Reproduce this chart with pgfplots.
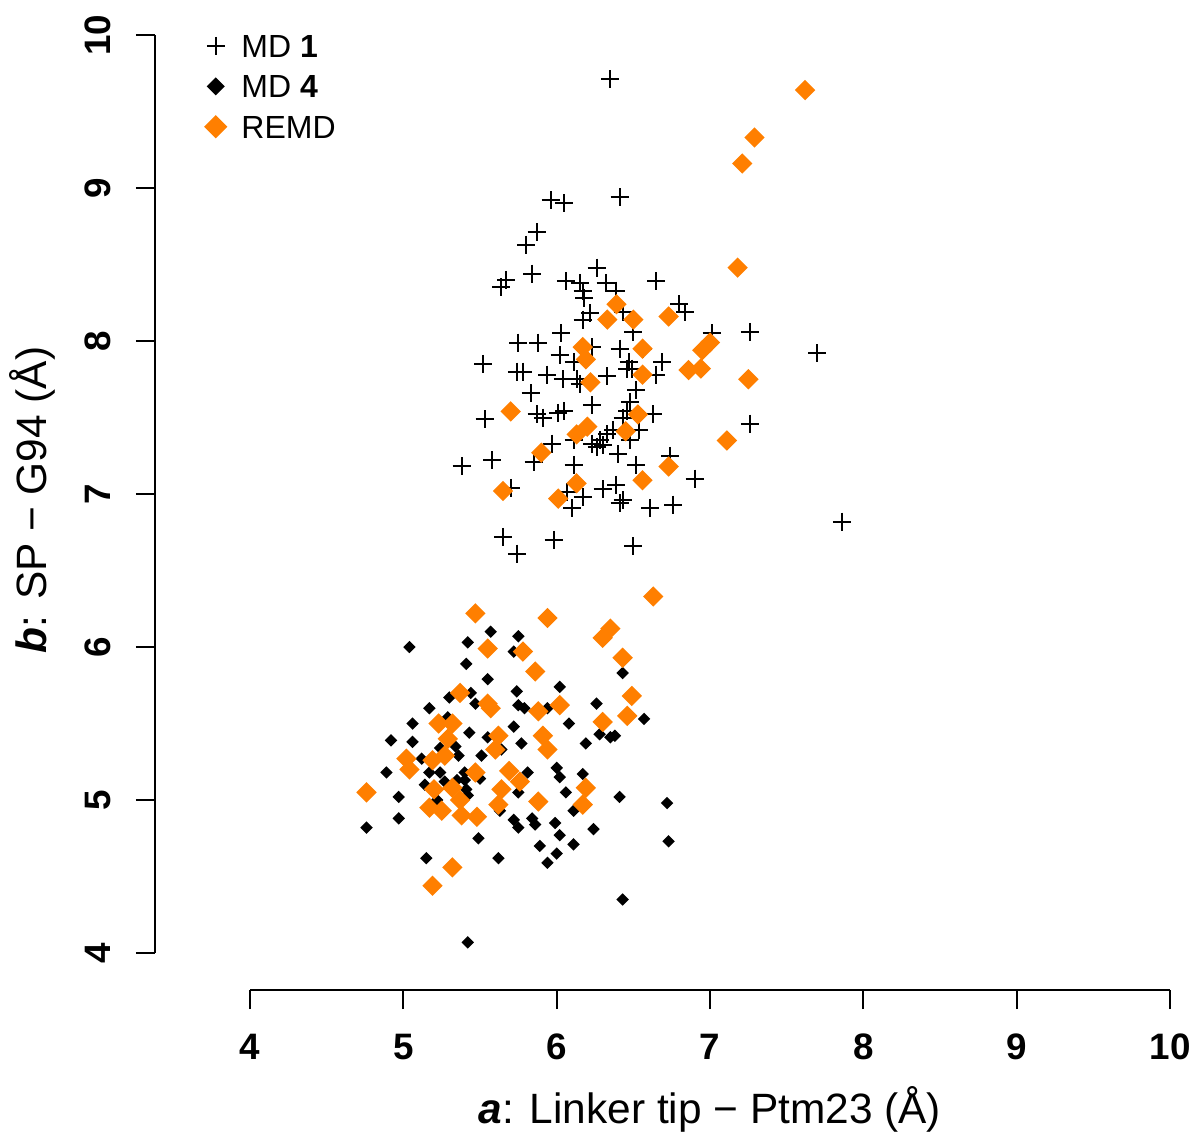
\documentclass[border=0pt]{standalone}
\usepackage{fontspec}
\setmainfont{Liberation Sans}
\usepackage{pgfplots}
\usepackage{pgfplotstable}
\pgfplotsset{compat=1.18}
\definecolor{remd}{HTML}{FF7F00}

% a: Linker tip - Ptm23, b: SP - G94 (both in Angstrom)
\pgfplotstableread{
a b
6.35 9.71
5.96 8.92
6.05 8.90
6.41 8.94
5.87 8.71
5.80 8.63
5.84 8.44
5.67 8.40
5.64 8.35
6.26 8.48
6.06 8.39
6.15 8.38
6.17 8.33
6.18 8.28
6.32 8.38
6.39 8.33
6.65 8.39
6.80 8.24
6.84 8.19
6.22 8.18
6.17 8.14
6.43 8.19
6.50 8.06
6.03 8.05
5.75 7.99
5.88 7.99
7.01 8.05
7.26 8.06
7.70 7.92
6.23 7.96
6.41 7.95
6.56 7.95
6.02 7.91
6.11 7.86
5.52 7.85
6.47 7.86
6.69 7.86
6.46 7.82
6.49 7.82
5.74 7.80
5.78 7.80
5.94 7.78
6.04 7.75
6.13 7.75
6.33 7.77
6.15 7.72
6.65 7.78
5.83 7.66
6.52 7.68
6.23 7.58
6.48 7.60
6.46 7.54
6.63 7.52
6.43 7.50
5.53 7.49
5.87 7.52
5.91 7.50
6.01 7.53
6.05 7.54
7.26 7.46
6.37 7.42
6.33 7.39
6.28 7.35
6.30 7.32
6.26 7.31
6.23 7.33
6.54 7.42
6.48 7.35
6.11 7.35
5.97 7.33
6.74 7.25
5.38 7.18
5.58 7.22
5.85 7.21
6.40 7.26
6.11 7.19
6.52 7.19
6.90 7.10
5.70 7.04
6.07 7.01
6.17 6.98
6.10 6.91
6.30 7.03
6.39 7.06
6.43 6.96
6.41 6.94
6.61 6.91
6.76 6.93
7.86 6.82
5.65 6.72
5.74 6.61
5.98 6.70
6.50 6.66
}\mdone

\pgfplotstableread{
a b
5.57 6.10
5.75 6.07
5.04 6.00
5.42 6.03
5.72 5.97
5.41 5.89
5.55 5.79
6.02 5.74
6.43 5.83
5.30 5.67
5.44 5.70
5.47 5.63
5.74 5.71
5.75 5.62
5.79 5.60
5.94 5.60
6.26 5.63
5.17 5.60
5.06 5.50
5.29 5.54
5.72 5.48
6.08 5.50
6.57 5.53
5.43 5.44
5.55 5.41
6.28 5.43
6.35 5.41
6.38 5.42
4.92 5.39
5.06 5.38
5.77 5.37
6.19 5.37
5.34 5.35
5.24 5.34
5.64 5.33
5.51 5.29
5.12 5.27
5.36 5.29
6.00 5.21
4.89 5.18
5.17 5.18
5.24 5.18
5.40 5.18
5.81 5.18
6.02 5.15
6.17 5.17
5.14 5.10
5.27 5.12
5.40 5.13
5.50 5.14
5.35 5.13
5.41 5.07
5.42 5.03
5.75 5.05
6.06 5.05
4.97 5.02
6.41 5.02
6.72 4.98
5.63 4.93
6.11 4.93
5.22 5.00
4.76 4.82
4.97 4.88
5.72 4.87
5.75 4.82
5.84 4.88
5.86 4.84
5.99 4.85
6.24 4.81
6.02 4.77
5.49 4.75
5.89 4.70
6.11 4.71
6.73 4.73
6.00 4.65
5.94 4.59
5.15 4.62
5.62 4.62
6.43 4.35
5.42 4.07
}\mdfour

\pgfplotstableread{
a b
7.62 9.64
7.29 9.33
7.21 9.16
7.18 8.48
6.39 8.24
6.33 8.14
6.50 8.14
6.73 8.16
6.17 7.96
6.19 7.88
6.56 7.95
7.00 7.99
6.95 7.94
6.86 7.81
6.94 7.82
7.25 7.75
6.56 7.78
6.22 7.73
5.70 7.54
6.53 7.52
6.20 7.44
6.13 7.39
6.45 7.41
7.11 7.35
5.90 7.27
6.73 7.18
6.13 7.07
6.56 7.09
5.65 7.02
6.01 6.97
6.63 6.33
5.47 6.22
5.94 6.19
6.35 6.12
6.30 6.06
5.55 5.99
5.78 5.97
6.43 5.93
5.86 5.84
6.49 5.68
5.37 5.70
5.55 5.63
5.57 5.60
5.88 5.58
6.02 5.62
6.46 5.55
6.30 5.51
5.23 5.50
5.32 5.50
5.62 5.42
5.91 5.42
5.29 5.40
5.94 5.33
5.60 5.33
5.02 5.27
5.19 5.26
5.27 5.29
5.04 5.20
5.47 5.18
5.69 5.19
5.76 5.12
5.20 5.07
5.32 5.08
5.64 5.07
6.19 5.08
4.76 5.05
5.37 5.00
5.62 4.97
5.88 4.99
6.17 4.97
5.17 4.95
5.25 4.93
5.38 4.90
5.48 4.89
5.32 4.56
5.19 4.44
}\remd

\begin{document}
\begin{tikzpicture}
\begin{axis}[
  scale only axis, width=260pt, height=247.5pt,
  xmin=3.3804, xmax=10.163, ymin=3.7582, ymax=10.2288,
  clip=false,
  axis x line*=bottom, axis y line*=left,
  axis line style={draw=none},
  tick align=outside, major tick length=4.75pt,
  tick style={black, line width=0.55pt},
  xtick={4,5,...,10}, ytick={4,5,...,10},
  xticklabels={4,5,6,7,8,9,10}, yticklabels={4,5,6,7,8,9,10},
  xticklabel style={font=\fontsize{9.2}{11}\selectfont\bfseries, anchor=base, yshift=-12.5pt},
  yticklabel style={font=\fontsize{9.2}{11}\selectfont\bfseries, anchor=base, xshift=-6.5pt, rotate=90},
  legend style={at={(axis cs:3.7085,10.004)}, anchor=north west, draw=none, fill=none,
    inner sep=0pt, outer sep=0pt, font=\fontsize{8}{9.6}\selectfont,
    row sep=4.3pt, column sep=3.8pt,
    nodes={inner sep=0pt, text height=5.8pt, text depth=0pt}},
  legend cell align=left,
  legend image code/.code={\draw[#1] plot coordinates {(0pt,0pt)};},
]
\addplot[only marks, mark=+, mark size=2.25pt, mark options={line width=0.5pt, black}, forget plot] table[x=a, y=b] {\mdone};
\addplot[only marks, mark=square*, mark size=0.9pt, mark options={rotate=45, black, draw=black, fill=black}, forget plot] table[x=a, y=b] {\mdfour};
\addplot[only marks, mark=square*, mark size=1.6pt, mark options={rotate=45, draw=remd, fill=remd}, forget plot] table[x=a, y=b] {\remd};

\addlegendimage{only marks, mark=+, mark size=2.25pt, mark options={line width=0.5pt, black}}
\addlegendentry{MD \textbf{1}}
\addlegendimage{only marks, mark=square*, mark size=1.4pt, mark options={rotate=45, draw=black, fill=black}}
\addlegendentry{MD \textbf{4}}
\addlegendimage{only marks, mark=square*, mark size=1.85pt, mark options={rotate=45, draw=remd, fill=remd}}
\addlegendentry{REMD}

% detached R-style axis lines
\draw[line width=0.55pt] (axis cs:3.3804,4) -- (axis cs:3.3804,10);
\draw[line width=0.55pt] (axis cs:4,3.7582) -- (axis cs:10,3.7582);

\node[anchor=base, font=\fontsize{10.6}{12}\selectfont] at (axis cs:7,2.889)
  {\textbf{\textit{a}}: Linker tip − Ptm23 (Å)};
\node[anchor=base, rotate=90, font=\fontsize{10.6}{12}\selectfont] at (axis cs:2.676,6.961)
  {\textbf{\textit{b}}: SP − G94 (Å)};

\coordinate (bl) at (axis cs:2.3695,2.8235);
\coordinate (tr) at (axis cs:10.163,10.2288);
\end{axis}
\pgfresetboundingbox
\path[use as bounding box] (bl) rectangle (tr);
\end{tikzpicture}
\end{document}
